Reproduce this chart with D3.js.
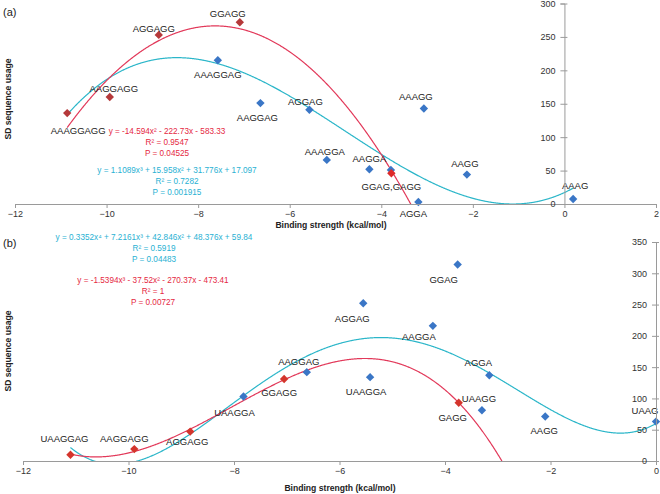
<!DOCTYPE html>
<html>
<head>
<meta charset="utf-8">
<script src="https://cdn.jsdelivr.net/npm/d3@7"></script>
<style>
  body { margin: 0; background: #fff; }
  svg { font-family: "Liberation Sans", Arial, sans-serif; }
</style>
</head>
<body>
<div id="chart"></div>
<script>
var width = 660;
var height = 494;

// ---- panel (a) data ----
var aRedNames = ["AAAGGAGG", "AAGGAGG", "AGGAGG", "GGAGG", "GGAG,GAGG"];
var aRedX = [-10.86, -9.93, -8.86, -7.09, -3.78];
var aRedY = [136, 160, 253, 272, 46];

var aBlueNames = ["AAAGGAG", "AAGGAG", "AGGAG", "AAAGGA", "AAGGA", "", "AGGA", "AAAGG", "AAGG", "AAAG"];
var aBlueX = [-7.57, -6.64, -5.57, -5.19, -4.26, -3.79, -3.19, -3.07, -2.13, 0.19];
var aBlueY = [215, 151, 141, 66, 52, 51, 3, 143, 44, 7.5];

// trendline coefficients, highest power first (from the chart's equations)
var aRedFit = [-14.594, -222.73, -583.33];
var aBlueFit = [1.1089, 15.958, 31.776, 17.097];
var aRedEq = ["y = -14.594x² - 222.73x - 583.33", "R² = 0.9547", "P = 0.04525"];
var aBlueEq = ["y = 1.1089x³ + 15.958x² + 31.776x + 17.097", "R² = 0.7282", "P = 0.001915"];
var aXTicks = [-12, -10, -8, -6, -4, -2, 0, 2];
var aYTicks = [0, 50, 100, 150, 200, 250, 300];

// ---- panel (b) data ----
var bRedNames = ["UAAGGAG", "AAGGAGG", "AGGAGG", "GGAGG", "GAGG"];
var bRedX = [-11.10, -9.89, -8.83, -7.05, -3.74];
var bRedY = [10, 19, 47, 131, 93];

var bBlueNames = ["UAAGGA", "AAGGAG", "AGGAG", "UAAGGA", "AAGGA", "GGAG", "UAAGG", "AGGA", "AAGG", "UAAG"];
var bBlueX = [-7.82, -6.62, -5.55, -5.42, -4.23, -3.76, -3.30, -3.16, -2.10, 0.0];
var bBlueY = [103, 142, 252, 134, 216, 314, 81, 137, 71, 63];

var bBlueFit = [0.3352, 7.2161, 42.846, 48.376, 59.84];
var bBlueEq = ["y = 0.3352x⁴ + 7.2161x³ + 42.846x² + 48.376x + 59.84", "R² = 0.5919", "P = 0.04483"];
var bRedEq = ["y = -1.5394x³ - 37.52x² - 270.37x - 473.41", "R² = 1", "P = 0.00727"];
var bXTicks = [-12, -10, -8, -6, -4, -2, 0];
var bYTicks = [0, 50, 100, 150, 200, 250, 300, 350];

// label offsets (layout only): [dx, dy] from the marker
var aRedOff = [[11, 18], [4, -8], [-5, -6], [-12, -9], [0, 13]];
var aBlueOff = [[0, 14], [-3, 15], [-4, -8], [-2, -8], [0, -11], [0, 0], [-5, 12], [-8, -12], [-2, -11], [2, -13]];
var bRedOff = [[-6, -16], [-10, -10], [-3, 10], [-5, 14], [-6, 15]];
var bBlueOff = [[-9, 16], [-8, -10], [-11, 15], [-4, 15], [-14, 11], [-14, 15], [-3, -12], [-11, -13], [-1, 14], [-11, -11]];

var RED_PT = "#b5393a", RED_LINE = "#e2395a", RED_TXT = "#e5283f";
var BLUE_PT = "#3a76c6", CYAN = "#2bb6c9", CYAN_TXT = "#29b1d3";

window.onload = start;

function poly(c, x) {
	var v = 0;
	for (var i = 0; i < c.length; i++) v = v * x + c[i];
	return v;
}

// least squares polynomial fit, returns coefficients highest power first
function polyfit(xs, ys, order) {
	var n = order + 1;
	var M = [];
	for (var r = 0; r < n; r++) {
		M.push([]);
		for (var c = 0; c < n; c++) M[r].push(d3.sum(xs, x => Math.pow(x, r + c)));
		M[r].push(d3.sum(xs, (x, i) => ys[i] * Math.pow(x, r)));
	}
	for (var p = 0; p < n; p++) {
		var best = p;
		for (var r = p + 1; r < n; r++) if (Math.abs(M[r][p]) > Math.abs(M[best][p])) best = r;
		var tmp = M[p]; M[p] = M[best]; M[best] = tmp;
		for (var r = 0; r < n; r++) {
			if (r === p) continue;
			var f = M[r][p] / M[p][p];
			for (var c = p; c <= n; c++) M[r][c] -= f * M[p][c];
		}
	}
	var coef = M.map((row, i) => row[n] / row[i]);
	return coef.reverse();
}

function diamond(g, xs, ys, xScale, yScale, color) {
	g.selectAll(null)
		.data(xs)
		.enter()
		.append("path")
		.attr("d", "M0,-4.2L4.2,0L0,4.2L-4.2,0Z")
		.attr("fill", (d, i) => Array.isArray(color) ? color[i] : color)
		.attr("transform", (d, i) => "translate(" + xScale(d) + "," + yScale(ys[i]) + ")");
}

function labels(g, names, xs, ys, off, xScale, yScale) {
	g.selectAll(null)
		.data(names)
		.enter()
		.append("text")
		.attr("x", (d, i) => xScale(xs[i]) + off[i][0])
		.attr("y", (d, i) => yScale(ys[i]) + off[i][1])
		.attr("dy", "0.35em")
		.attr("text-anchor", "middle")
		.attr("font-size", 9.5)
		.attr("fill", "#222")
		.text(d => d);
}

function curve(g, coef, x0, x1, xScale, yScale, color) {
	var pts = d3.range(x0, x1, 0.01).concat([x1]);
	var line = d3.line()
		.x(d => xScale(d))
		.y(d => yScale(poly(coef, d)));
	g.append("path")
		.datum(pts)
		.attr("d", line)
		.attr("fill", "none")
		.attr("stroke", color)
		.attr("stroke-width", 1.2);
}

function equation(svg, lines, cx, y0, color) {
	svg.selectAll(null)
		.data(lines)
		.enter()
		.append("text")
		.attr("x", cx)
		.attr("y", (d, i) => y0 + i * 11.3)
		.attr("dy", "0.35em")
		.attr("text-anchor", "middle")
		.attr("font-size", 8.2)
		.attr("fill", color)
		.text(d => d);
}

function axes(svg, xScale, yScale, xTicks, yTicks, titleX, titleY, ylabX, ylabY) {
	var axisColor = "#9a9a9a";
	var xa = svg.append("g")
		.attr("transform", "translate(0," + yScale(0) + ")")
		.call(d3.axisBottom(xScale).tickValues(xTicks).tickSizeOuter(0).tickSize(4).tickPadding(3).tickFormat(d3.format("d")));
	xa.select(".domain").attr("stroke", axisColor);
	xa.selectAll(".tick line").attr("stroke", axisColor);
	xa.selectAll(".tick text").attr("fill", "#333").attr("font-size", 9).attr("font-family", "Liberation Sans, Arial");

	var ya = svg.append("g")
		.attr("transform", "translate(" + xScale(0) + ",0)")
		.call(d3.axisLeft(yScale).tickValues(yTicks).tickSizeOuter(0).tickSize(4).tickPadding(5));
	ya.select(".domain").attr("stroke", axisColor);
	ya.selectAll(".tick line").attr("stroke", axisColor).attr("x2", 3).attr("x1", -4);
	ya.selectAll(".tick text").attr("fill", "#333").attr("font-size", 9).attr("font-family", "Liberation Sans, Arial");

	svg.append("text")
		.attr("x", titleX)
		.attr("y", titleY)
		.attr("dy", "0.35em")
		.attr("text-anchor", "middle")
		.attr("font-size", 8.6)
		.attr("font-weight", "bold")
		.attr("fill", "#222")
		.text("Binding strength (kcal/mol)");

	svg.append("text")
		.attr("transform", "translate(" + ylabX + "," + ylabY + ") rotate(-90)")
		.attr("dy", "0.35em")
		.attr("text-anchor", "middle")
		.attr("font-size", 8.6)
		.attr("font-weight", "bold")
		.attr("fill", "#222")
		.text("SD sequence usage");
}

function start() {
	var svg = d3.select("#chart")
		.append("svg")
		.attr("width", width)
		.attr("height", height);

	// ---------- panel (a) ----------
	var ax = d3.scaleLinear().domain([-12, 2]).range([15, 656]);
	var ay = d3.scaleLinear().domain([0, 300]).range([204, 3.5]);

	svg.append("clipPath").attr("id", "clipA")
		.append("rect").attr("x", 0).attr("y", 0).attr("width", width).attr("height", 204);
	var ga = svg.append("g");
	axes(svg, ax, ay, aXTicks, aYTicks, 331, 225, 8, 99);
	var ca = ga.append("g").attr("clip-path", "url(#clipA)");
	curve(ca, aBlueFit, -10.86, 0.19, ax, ay, CYAN);
	curve(ca, aRedFit, -10.86, -3.3, ax, ay, RED_LINE);
	diamond(ga, aBlueX, aBlueY, ax, ay, BLUE_PT);
	diamond(ga, aRedX, aRedY, ax, ay, [RED_PT, RED_PT, RED_PT, RED_PT, "#de2a2a"]);
	labels(ga, aRedNames, aRedX, aRedY, aRedOff, ax, ay);
	labels(ga, aBlueNames, aBlueX, aBlueY, aBlueOff, ax, ay);
	equation(svg, aRedEq, 167, 131, RED_TXT);
	equation(svg, aBlueEq, 177, 170, CYAN_TXT);
	svg.append("text").attr("x", 3).attr("y", 12).attr("dy", "0.35em")
		.attr("font-size", 11).attr("fill", "#222").text("(a)");

	// ---------- panel (b) ----------
	var bx = d3.scaleLinear().domain([-12, 0]).range([23, 656]);
	var by = d3.scaleLinear().domain([0, 350]).range([461, 242]);

	// the printed red cubic is rounded; the drawn trendline is the cubic fit of the red points
	var bRedFit = polyfit(bRedX, bRedY, 3);

	svg.append("clipPath").attr("id", "clipB")
		.append("rect").attr("x", 0).attr("y", 230).attr("width", width).attr("height", 231);
	var gb = svg.append("g");
	axes(svg, bx, by, bXTicks, bYTicks, 340, 488, 8, 351);
	var cb = gb.append("g").attr("clip-path", "url(#clipB)");
	curve(cb, bBlueFit, -11.1, 0, bx, by, CYAN);
	curve(cb, bRedFit, -11.1, -2.5, bx, by, RED_LINE);
	diamond(gb, bBlueX, bBlueY, bx, by, BLUE_PT);
	diamond(gb, bRedX, bRedY, bx, by, "#d4352c");
	labels(gb, bRedNames, bRedX, bRedY, bRedOff, bx, by);
	labels(gb, bBlueNames, bBlueX, bBlueY, bBlueOff, bx, by);
	equation(svg, bBlueEq, 154, 237, CYAN_TXT);
	equation(svg, bRedEq, 153, 280, RED_TXT);
	svg.append("text").attr("x", 3).attr("y", 243).attr("dy", "0.35em")
		.attr("font-size", 11).attr("fill", "#222").text("(b)");
}
</script>
</body>
</html>
